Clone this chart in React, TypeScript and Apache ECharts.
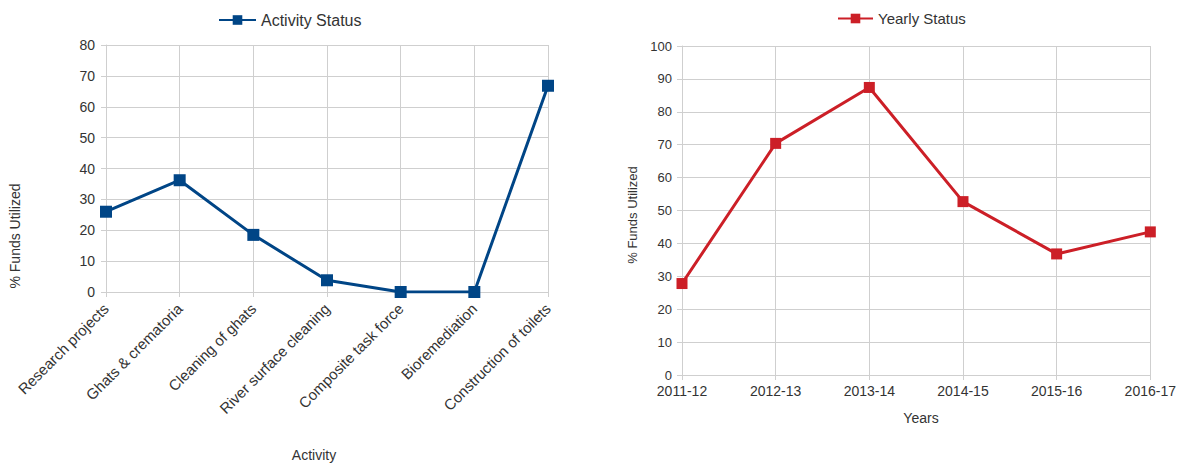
import React, { useEffect, useRef } from "react";
import * as echarts from "echarts";

const activities = [
  "Research projects",
  "Ghats & crematoria",
  "Cleaning of ghats",
  "River surface cleaning",
  "Composite task force",
  "Bioremediation",
  "Construction of toilets",
];
const activityValues = [26, 36.2, 18.5, 3.8, 0, 0, 66.8];

const years = ["2011-12", "2012-13", "2013-14", "2014-15", "2015-16", "2016-17"];
const yearValues = [27.8, 70.4, 87.4, 52.7, 36.8, 43.5];

const BLUE = "#004586";
const RED = "#cc1f27";
const FONT = "Liberation Sans";
const TXT = "#333333";
const GRID = "#cfcfcf";

export default function App() {
  const ref = useRef<HTMLDivElement>(null);
  useEffect(() => {
    if (!ref.current) return;
    const chart = echarts.init(ref.current, null, { renderer: "svg" });
    const axisCommonY = {
      type: "value",
      axisLine: { show: true, lineStyle: { color: GRID } },
      axisTick: { show: true, length: 5, lineStyle: { color: GRID } },
      splitLine: { show: true, lineStyle: { color: GRID, width: 1 } },
    };
    const axisCommonX = {
      type: "category",
      boundaryGap: false,
      axisLine: { show: true, lineStyle: { color: GRID } },
      axisTick: { show: true, length: 5, alignWithLabel: true, lineStyle: { color: GRID } },
      splitLine: { show: true, lineStyle: { color: GRID, width: 1 } },
    };
    chart.setOption({
      animation: false,
      textStyle: { fontFamily: FONT },
      legend: [
        {
          data: ["Activity Status"],
          left: 213,
          top: 7,
          itemWidth: 37,
          itemHeight: 12,
          itemGap: 3,
          textStyle: { color: TXT, fontFamily: FONT, fontSize: 16 },
        },
        {
          data: ["Yearly Status"],
          left: 832,
          top: 6,
          itemWidth: 35,
          itemHeight: 12,
          itemGap: 3,
          textStyle: { color: TXT, fontFamily: FONT, fontSize: 15 },
        },
      ],
      grid: [
        { left: 106, top: 45, width: 442, height: 247 },
        { left: 682, top: 46, width: 470, height: 329 },
      ],
      xAxis: [
        {
          ...axisCommonX,
          gridIndex: 0,
          data: activities,
          axisLabel: {
            color: TXT,
            fontFamily: FONT,
            fontSize: 15,
            rotate: 45,
            interval: 0,
            margin: 14,
          },
        },
        {
          ...axisCommonX,
          gridIndex: 1,
          data: years,
          axisLabel: {
            color: TXT,
            fontFamily: FONT,
            fontSize: 14,
            interval: 0,
            margin: 9,
          },
        },
      ],
      yAxis: [
        {
          ...axisCommonY,
          gridIndex: 0,
          min: 0,
          max: 80,
          interval: 10,
          axisLabel: { color: TXT, fontFamily: FONT, fontSize: 14, margin: 11 },
        },
        {
          ...axisCommonY,
          gridIndex: 1,
          min: 0,
          max: 100,
          interval: 10,
          axisLabel: { color: TXT, fontFamily: FONT, fontSize: 13, margin: 10 },
        },
      ],
      graphic: [
        {
          type: "text",
          x: 15,
          y: 236,
          rotation: Math.PI / 2,
          style: {
            text: "% Funds Utilized",
            fill: TXT,
            font: `14px "${FONT}"`,
            textAlign: "center",
            textVerticalAlign: "middle",
          },
        },
        {
          type: "text",
          x: 314,
          y: 455,
          style: {
            text: "Activity",
            fill: TXT,
            font: `14px "${FONT}"`,
            textAlign: "center",
            textVerticalAlign: "middle",
          },
        },
        {
          type: "text",
          x: 632,
          y: 215,
          rotation: Math.PI / 2,
          style: {
            text: "% Funds Utilized",
            fill: TXT,
            font: `13px "${FONT}"`,
            textAlign: "center",
            textVerticalAlign: "middle",
          },
        },
        {
          type: "text",
          x: 921,
          y: 418,
          style: {
            text: "Years",
            fill: TXT,
            font: `14px "${FONT}"`,
            textAlign: "center",
            textVerticalAlign: "middle",
          },
        },
      ],
      series: [
        {
          name: "Activity Status",
          type: "line",
          xAxisIndex: 0,
          yAxisIndex: 0,
          data: activityValues,
          symbol: "rect",
          symbolSize: 12,
          itemStyle: { color: BLUE },
          lineStyle: { color: BLUE, width: 3 },
        },
        {
          name: "Yearly Status",
          type: "line",
          xAxisIndex: 1,
          yAxisIndex: 1,
          data: yearValues,
          symbol: "rect",
          symbolSize: 11,
          itemStyle: { color: RED },
          lineStyle: { color: RED, width: 3 },
        },
      ],
    });
    return () => chart.dispose();
  }, []);
  return (
    <div
      ref={ref}
      style={{ position: "fixed", left: 0, top: 0, width: 1179, height: 463, background: "#fff" }}
    />
  );
}
